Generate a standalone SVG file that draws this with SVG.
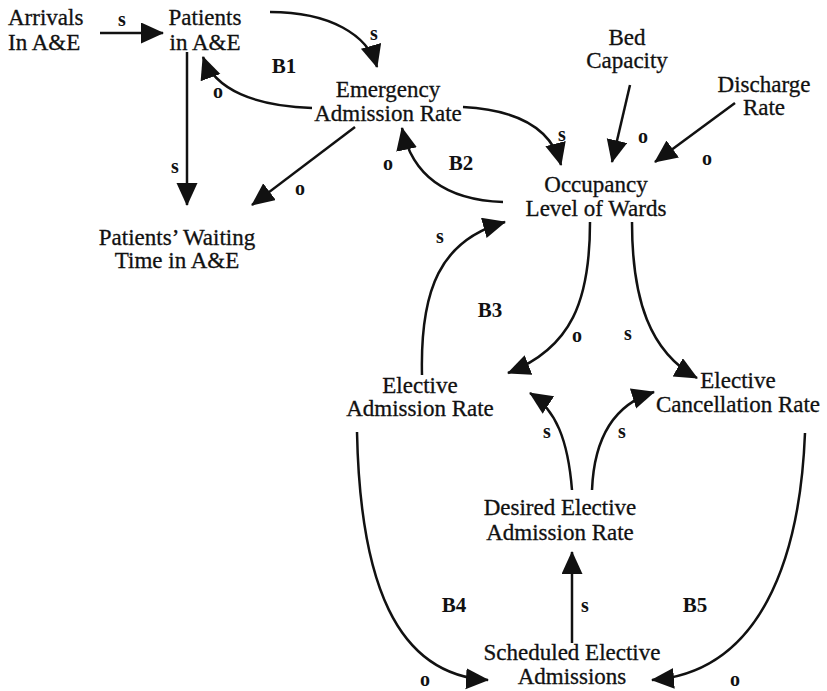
<svg xmlns="http://www.w3.org/2000/svg" width="827" height="691" viewBox="0 0 827 691">
  <defs>
    <marker id="arrow" markerUnits="userSpaceOnUse" markerWidth="24" markerHeight="22" refX="22" refY="10.5" orient="auto">
      <path d="M0,0 L23,10.5 L0,21 z" fill="#111"/>
    </marker>
    <style>
      .node { font-family: "Liberation Serif", "Times New Roman", serif; font-size: 23px; fill: #111; stroke: #111; stroke-width: 0.3; text-anchor: middle; }
      .pol { font-family: "Liberation Serif", "Times New Roman", serif; font-size: 20px; font-weight: bold; fill: #111; text-anchor: middle; }
      .loop { font-family: "Liberation Serif", "Times New Roman", serif; font-size: 21px; font-weight: bold; fill: #111; text-anchor: middle; }
      .link { fill: none; stroke: #111; stroke-width: 2.5; marker-end: url(#arrow); }
    </style>
  </defs>
  <rect width="827" height="691" fill="#fff"/>

  <!-- causal links -->
  <g id="connectors">
    <path class="link" d="M100,33 L163,33"/>
    <path class="link" d="M270,12 C330,12 368,35 377,67"/>
    <path class="link" d="M312,108 C255,106 215,90 203,57"/>
    <path class="link" d="M187,52 L187,205"/>
    <path class="link" d="M355,127 L252,205"/>
    <path class="link" d="M463,107 C520,110 552,130 561,165"/>
    <path class="link" d="M503,202 C445,200 412,175 402,128"/>
    <path class="link" d="M630,85 L612,162"/>
    <path class="link" d="M735,103 L655,162"/>
    <path class="link" d="M422,375 C420,290 440,240 505,222"/>
    <path class="link" d="M590,222 C590,300 572,348 508,373"/>
    <path class="link" d="M632,222 C632,300 650,352 697,378"/>
    <path class="link" d="M572,490 C568,440 556,410 530,393"/>
    <path class="link" d="M592,490 C594,440 612,405 654,392"/>
    <path class="link" d="M572,643 L572,552"/>
    <path class="link" d="M357,432 C360,580 395,675 488,680"/>
    <path class="link" d="M805,433 C800,560 760,672 652,680"/>
  </g>

  <!-- polarity and loop labels -->
  <g id="labels">
    <text class="pol" x="122" y="26">s</text>
    <text class="pol" x="374" y="40">s</text>
    <text class="pol" x="218" y="98">o</text>
    <text class="pol" x="175" y="173">s</text>
    <text class="pol" x="300" y="195">o</text>
    <text class="pol" x="388" y="170">o</text>
    <text class="pol" x="562" y="141">s</text>
    <text class="pol" x="643" y="143">o</text>
    <text class="pol" x="707" y="165">o</text>
    <text class="pol" x="440" y="243">s</text>
    <text class="pol" x="577" y="342">o</text>
    <text class="pol" x="628" y="340">s</text>
    <text class="pol" x="547" y="438">s</text>
    <text class="pol" x="622" y="438">s</text>
    <text class="pol" x="585" y="612">s</text>
    <text class="pol" x="425" y="686">o</text>
    <text class="pol" x="735" y="686">o</text>
    <text class="loop" x="284" y="73">B1</text>
    <text class="loop" x="461" y="170">B2</text>
    <text class="loop" x="490" y="317">B3</text>
    <text class="loop" x="454" y="612">B4</text>
    <text class="loop" x="695" y="612">B5</text>
  </g>

  <g id="arrivals">
    <text class="node" style="text-anchor:start" x="8" y="25">Arrivals<tspan x="8" y="50">In A&amp;E</tspan></text>
  </g>
  <g id="patients">
    <text class="node" x="205" y="25">Patients<tspan x="205" y="50">in A&amp;E</tspan></text>
  </g>
  <g id="emergency-admission-rate">
    <text class="node" x="388" y="97">Emergency<tspan x="388" y="121">Admission Rate</tspan></text>
  </g>
  <g id="bed-capacity">
    <text class="node" x="627" y="45">Bed<tspan x="627" y="68">Capacity</tspan></text>
  </g>
  <g id="discharge-rate">
    <text class="node" x="764" y="92">Discharge<tspan x="764" y="115">Rate</tspan></text>
  </g>
  <g id="occupancy">
    <text class="node" x="596" y="192">Occupancy<tspan x="596" y="216">Level of Wards</tspan></text>
  </g>
  <g id="waiting-time">
    <text class="node" x="177" y="245">Patients’ Waiting<tspan x="177" y="268">Time in A&amp;E</tspan></text>
  </g>
  <g id="elective-admission-rate">
    <text class="node" x="420" y="393">Elective<tspan x="420" y="416">Admission Rate</tspan></text>
  </g>
  <g id="elective-cancellation-rate">
    <text class="node" x="738" y="388">Elective<tspan x="738" y="412">Cancellation Rate</tspan></text>
  </g>
  <g id="desired-elective-admission-rate">
    <text class="node" x="560" y="515">Desired Elective<tspan x="560" y="540">Admission Rate</tspan></text>
  </g>
  <g id="scheduled-elective-admissions">
    <text class="node" x="572" y="660">Scheduled Elective<tspan x="572" y="684">Admissions</tspan></text>
  </g>
</svg>
